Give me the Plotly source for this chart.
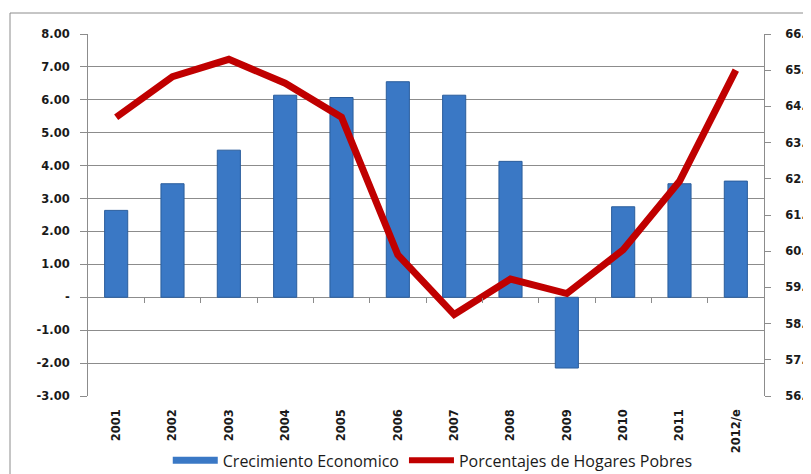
import plotly.graph_objects as go

categories = ["2001", "2002", "2003", "2004", "2005", "2006", "2007", "2008", "2009", "2010", "2011", "2012/e"]
crecimiento = [2.64, 3.45, 4.47, 6.14, 6.07, 6.55, 6.14, 4.13, -2.15, 2.75, 3.45, 3.53]
hogares_pobres = [63.70, 64.82, 65.30, 64.64, 63.70, 59.90, 58.25, 59.23, 58.83, 60.04, 61.93, 65.00]

left_ticks = list(range(-3, 9))
left_text = ["-" if v == 0 else f"{v:.2f}" for v in left_ticks]
right_ticks = list(range(56, 67))
right_text = [f"{v}." for v in right_ticks]  # as visible in the reference (clipped at the frame)

GRID = "#8c8c8c"
TXT = "#1a1a1a"
BLUE = "#3a78c5"
RED = "#c00000"
TICKFONT = dict(family="DejaVu Sans", size=11.5, color=TXT, weight="bold")

# the page has an 8px body margin, so the figure is 8px smaller and all offsets are shifted
W, H = 803, 466
L, R, T, B = 80, 47, 26, 78
PW, PH = W - L - R, H - T - B

fig = go.Figure()
fig.add_trace(go.Bar(
    x=categories, y=crecimiento, name="Crecimiento Economico",
    marker=dict(color=BLUE, line=dict(color="#2a5d9c", width=1)),
    yaxis="y", xaxis="x", showlegend=False,
))
fig.add_trace(go.Scatter(
    x=categories, y=hogares_pobres, name="Porcentajes de Hogares Pobres",
    mode="lines", line=dict(color=RED, width=7),
    yaxis="y2", xaxis="x", showlegend=False,
))
# legend entries
fig.add_trace(go.Scatter(x=[None], y=[None], mode="lines", name="Crecimiento Economico",
                         line=dict(color=BLUE, width=7), yaxis="y", xaxis="x"))
fig.add_trace(go.Scatter(x=[None], y=[None], mode="lines", name="Porcentajes de Hogares Pobres",
                         line=dict(color=RED, width=6), yaxis="y2", xaxis="x"))
# invisible helper trace for tick marks on the zero line
fig.add_trace(go.Scatter(x=[0], y=[0], xaxis="x2", yaxis="y", mode="markers",
                         marker=dict(opacity=0), showlegend=False, hoverinfo="skip"))

n = len(categories)
fig.update_layout(
    width=W, height=H,
    margin=dict(l=L, r=R, t=T, b=B, autoexpand=False),
    paper_bgcolor="white", plot_bgcolor="white",
    bargap=0.59,
    font=dict(family="DejaVu Sans", size=11, color=TXT),
    xaxis=dict(type="category", tickangle=-90, showgrid=False, showline=False,
               ticks="", tickfont=TICKFONT, automargin=False,
               range=[-0.5, n - 0.5], ticklabelstandoff=10),
    xaxis2=dict(overlaying="x", anchor="free", position=3 / 11, range=[-0.5, n - 0.5],
                tickvals=[i + 0.5 for i in range(n - 1)], ticks="outside", ticklen=5,
                tickcolor=GRID, showticklabels=False, showgrid=False, showline=False,
                zeroline=False, automargin=False),
    yaxis=dict(range=[-3, 8], tickvals=left_ticks, ticktext=left_text,
               showgrid=True, gridcolor=GRID, gridwidth=1, zeroline=False,
               showline=True, linecolor=GRID, ticks="outside", ticklen=7, tickcolor=GRID,
               tickfont=TICKFONT, automargin=False, ticklabelstandoff=8),
    yaxis2=dict(range=[56, 66], tickvals=right_ticks, ticktext=right_text,
                overlaying="y", side="right", showgrid=False, zeroline=False,
                showline=True, linecolor=GRID, ticks="outside", ticklen=6, tickcolor=GRID,
                tickfont=TICKFONT, automargin=False, ticklabelstandoff=12),
    legend=dict(orientation="h", x=0.51, xanchor="center", y=-0.178, yanchor="middle",
                font=dict(family="Open Sans", size=16, color=TXT), bgcolor="rgba(0,0,0,0)",
                tracegroupgap=0, itemwidth=45),
    showlegend=True,
    shapes=[dict(type="rect", xref="paper", yref="paper",
                 x0=-(L - 2) / PW, x1=1.3, y0=-0.4, y1=1 + (T - 5) / PH,
                 line=dict(color="#8c8c8c", width=1), layer="below")],
)

fig.write_html("out.html")
